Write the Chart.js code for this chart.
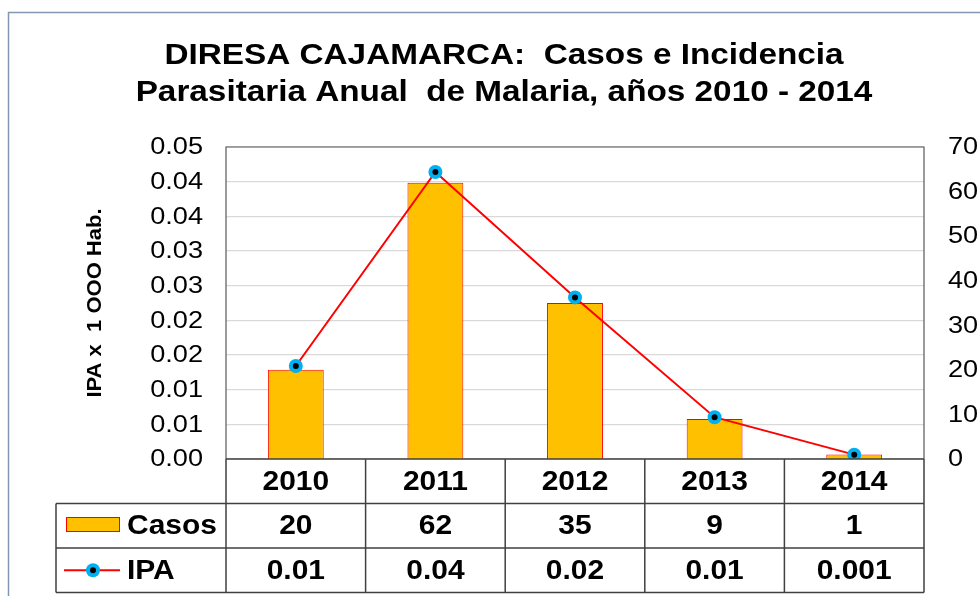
<!DOCTYPE html>
<html>
<head>
<meta charset="utf-8">
<script src="https://cdn.jsdelivr.net/npm/chart.js@4.4.0/dist/chart.umd.min.js"></script>
<style>
  html, body { margin: 0; padding: 0; background: #fff; }
</style>
</head>
<body>
<canvas id="c" width="980" height="596"></canvas>
<script>
const YEARS = ['2010', '2011', '2012', '2013', '2014'];
const CASOS = [20, 62, 35, 9, 1];
const IPA = [0.0149, 0.046, 0.0259, 0.0067, 0.0007];
const CASOS_TXT = ['20', '62', '35', '9', '1'];
const IPA_TXT = ['0.01', '0.04', '0.02', '0.01', '0.001'];
// left axis runs 0 to 0.05 in nine steps, labels rounded to 2 decimals
const LEFT_TICKS = ['0.00', '0.01', '0.01', '0.02', '0.02', '0.03', '0.03', '0.04', '0.04', '0.05'];
const LEFT_VALS = LEFT_TICKS.map((_, i) => i * 0.05 / 9);
const RIGHT_VALS = [0, 10, 20, 30, 40, 50, 60, 70];
const TITLE = ['DIRESA CAJAMARCA:  Casos e Incidencia', 'Parasitaria Anual  de Malaria, años 2010 - 2014'];
const Y_TITLE = 'IPA x  1 OOO Hab.';

const FONT = '"Liberation Sans", Arial, sans-serif';
const RED = '#ff0000';
const GOLD = '#ffc000';
const CYAN = '#00b0f0';
const LINE = '#404040';

// text in the original is a bit wider than plain Arial
function wide(ctx, text, x, y, font, align, sx) {
  ctx.save();
  ctx.translate(x, y);
  ctx.scale(sx, 1);
  ctx.font = font;
  ctx.textAlign = align;
  ctx.fillText(text, 0, 0);
  ctx.restore();
}

function marker(ctx, x, y) {
  ctx.beginPath();
  ctx.arc(x, y, 7, 0, Math.PI * 2);
  ctx.fillStyle = CYAN;
  ctx.fill();
  ctx.beginPath();
  ctx.arc(x, y, 3, 0, Math.PI * 2);
  ctx.fillStyle = '#000';
  ctx.fill();
}

// frame, title, tick labels, plot border and the data table under the bars
const deco = {
  id: 'deco',
  afterDraw(chart) {
    const ctx = chart.ctx;
    const ca = chart.chartArea;
    const xs = chart.scales.x, yl = chart.scales.y, yr = chart.scales.y1;
    const colW = (ca.right - ca.left) / YEARS.length;
    const rowH = 44.5;
    const r0 = ca.bottom, r1 = r0 + rowH, r2 = r1 + rowH, r3 = r2 + rowH;
    const tblLeft = 56;
    ctx.save();

    // outer chart frame
    ctx.strokeStyle = '#8497b0';
    ctx.lineWidth = 1.5;
    ctx.strokeRect(8.5, 12.5, 1000, 600);

    // title
    ctx.fillStyle = '#000';
    ctx.textBaseline = 'alphabetic';
    wide(ctx, TITLE[0], 504, 63.5, 'bold 30px ' + FONT, 'center', 1.11);
    wide(ctx, TITLE[1], 504, 100.5, 'bold 30px ' + FONT, 'center', 1.11);

    // tick labels
    ctx.textBaseline = 'middle';
    LEFT_TICKS.forEach((t, i) => {
      wide(ctx, t, 203, yl.getPixelForValue(LEFT_VALS[i]) + 1, '23px ' + FONT, 'right', 1.18);
    });
    RIGHT_VALS.forEach(v => {
      wide(ctx, String(v), 948, yr.getPixelForValue(v) + 1, '23px ' + FONT, 'left', 1.18);
    });

    // left axis title
    ctx.save();
    ctx.translate(95, (ca.top + ca.bottom) / 2);
    ctx.rotate(-Math.PI / 2);
    wide(ctx, Y_TITLE, 0, 0, 'bold 20px ' + FONT, 'center', 1.1);
    ctx.restore();

    // plot area border
    ctx.strokeStyle = '#595959';
    ctx.lineWidth = 1.2;
    ctx.beginPath();
    ctx.moveTo(ca.left, ca.bottom);
    ctx.lineTo(ca.left, ca.top);
    ctx.lineTo(ca.right, ca.top);
    ctx.lineTo(ca.right, ca.bottom);
    ctx.stroke();

    // table grid
    ctx.strokeStyle = LINE;
    ctx.lineWidth = 1.5;
    ctx.beginPath();
    ctx.moveTo(ca.left, r0); ctx.lineTo(ca.right, r0);
    [r1, r2, r3].forEach(y => { ctx.moveTo(tblLeft, y); ctx.lineTo(ca.right, y); });
    for (let i = 0; i <= YEARS.length; i++) {
      const x = ca.left + i * colW;
      ctx.moveTo(x, r0); ctx.lineTo(x, r3);
    }
    ctx.moveTo(tblLeft, r1); ctx.lineTo(tblLeft, r3);
    ctx.stroke();

    // table text
    ctx.fillStyle = '#000';
    const tf = 'bold 27px ' + FONT;
    YEARS.forEach((yr, i) => {
      const x = xs.getPixelForValue(i);
      wide(ctx, yr, x, r0 + rowH / 2 + 1, tf, 'center', 1.11);
      wide(ctx, CASOS_TXT[i], x, r1 + rowH / 2 + 1, tf, 'center', 1.11);
      wide(ctx, IPA_TXT[i], x, r2 + rowH / 2 + 1, tf, 'center', 1.11);
    });

    // legend keys
    wide(ctx, 'Casos', 127, r1 + rowH / 2 + 1, tf, 'left', 1.11);
    wide(ctx, 'IPA', 127, r2 + rowH / 2 + 1, tf, 'left', 1.11);
    ctx.fillStyle = GOLD;
    ctx.fillRect(66, 517, 54, 15);
    ctx.strokeStyle = RED;
    ctx.lineWidth = 1;
    ctx.strokeRect(66.5, 517.5, 53, 14);
    ctx.lineWidth = 2;
    ctx.beginPath();
    ctx.moveTo(64, r2 + rowH / 2); ctx.lineTo(120, r2 + rowH / 2);
    ctx.stroke();
    marker(ctx, 93, r2 + rowH / 2);
    ctx.restore();
  }
};

new Chart('c', {
  data: {
    labels: YEARS,
    datasets: [
      {
        type: 'line',
        label: 'IPA',
        data: IPA,
        yAxisID: 'y',
        borderColor: RED,
        borderWidth: 2,
        pointRadius: 5,
        pointBorderWidth: 4,
        pointBorderColor: CYAN,
        pointBackgroundColor: '#000',
        tension: 0,
        order: 0
      },
      {
        type: 'bar',
        label: 'Casos',
        data: CASOS,
        yAxisID: 'y1',
        backgroundColor: GOLD,
        borderColor: RED,
        borderWidth: 1,
        categoryPercentage: 1,
        barPercentage: 0.4,
        order: 1
      }
    ]
  },
  options: {
    responsive: false,
    animation: false,
    layout: { padding: { top: 147, bottom: 137, left: 0, right: 0 } },
    plugins: { legend: { display: false }, tooltip: { enabled: false } },
    scales: {
      x: { display: false },
      y: {
        position: 'left',
        min: 0, max: 0.05,
        bounds: 'data',
        afterBuildTicks: s => { s.ticks = LEFT_VALS.map(v => ({ value: v })); },
        afterFit: s => { s.width = 226; },
        border: { display: false },
        grid: { color: '#d9d9d9', lineWidth: 1.2, drawTicks: false },
        ticks: { display: false }
      },
      y1: {
        position: 'right',
        min: 0, max: 70,
        afterFit: s => { s.width = 56; },
        border: { display: false },
        grid: { display: false, drawTicks: false },
        ticks: { display: false, stepSize: 10 }
      }
    }
  },
  plugins: [deco]
});
</script>
</body>
</html>
